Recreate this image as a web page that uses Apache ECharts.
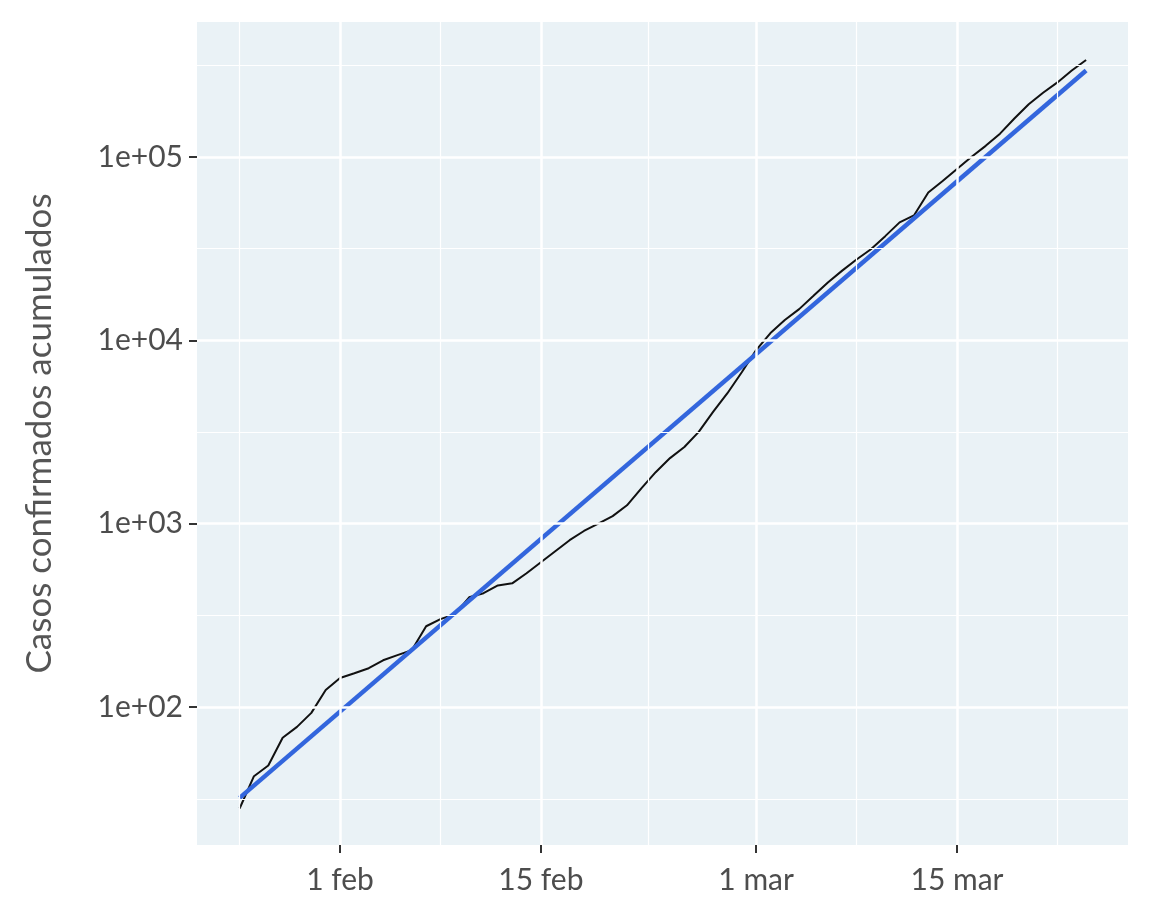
<!DOCTYPE html>
<html>
<head>
<meta charset="utf-8">
<script src="https://cdn.jsdelivr.net/npm/echarts@6/dist/echarts.min.js"></script>
<style>html,body{margin:0;padding:0;background:#fff}#chart{width:1152px;height:922px}</style>
</head>
<body>
<div id="chart"></div>
<script>
// days counted from 1 Jan 2020 (day 0), 2020 is leap year
var startDay = 24; // 25 jan
var cases = [28, 42, 48, 68, 78, 93, 124, 144, 153, 163, 180, 192, 204, 276, 302, 321, 397, 418, 461, 473,
  537, 617, 708, 813, 913, 1000, 1100, 1260, 1560, 1910, 2280, 2620, 3170, 4070, 5150, 6700,
  8840, 10960, 12900, 14800, 17500, 20700, 24000, 27600, 31400, 37000, 44000, 48000, 64000, 74000,
  86000, 100000, 115000, 134000, 162000, 194000, 224000, 255000, 296000, 338000];
// fitted exponential trend, endpoints
var fitDays = [24, 83];
var fitCases = [32, 296000];
var xTicks = [31, 45, 60, 74];
var xTickLabels = ['1 feb', '15 feb', '1 mar', '15 mar'];
var xMinor = [24, 38, 52.5, 67, 81];
var yTicks = [2, 3, 4, 5];
var yTickLabels = ['1e+02', '1e+03', '1e+04', '1e+05'];
var yMinor = [1.5, 2.5, 3.5, 4.5, 5.5];

var lineData = cases.map(function (v, i) { return [startDay + i, Math.log10(v)]; });
var fitData = fitDays.map(function (d, i) { return [d, Math.log10(fitCases[i])]; });

function gridLines(vals, key, w) {
  return vals.map(function (v) {
    var o = { lineStyle: { color: '#ffffff', width: w, type: 'solid' } };
    o[key] = v;
    return o;
  });
}

var chart = echarts.init(document.getElementById('chart'));
chart.setOption({
  animation: false,
  grid: { left: 197, right: 24, top: 22, bottom: 77, backgroundColor: '#eaf2f6', show: true, borderWidth: 0 },
  xAxis: {
    type: 'value', min: 21.03, max: 85.92,
    splitLine: { show: false },
    axisLine: { show: false },
    axisTick: { show: true, customValues: xTicks, length: 8, lineStyle: { color: '#333', width: 2 } },
    axisLabel: {
      customValues: xTicks, margin: 20, fontSize: 30, color: '#4d4d4d', fontFamily: 'Lato',
      formatter: function (v) { return xTickLabels[xTicks.indexOf(v)]; }
    }
  },
  yAxis: {
    type: 'value', min: 1.248, max: 5.736,
    name: 'Casos confirmados acumulados', nameLocation: 'middle', nameGap: 140,
    nameTextStyle: { fontSize: 35, color: '#555', fontFamily: 'Lato' },
    splitLine: { show: false },
    axisLine: { show: false },
    axisTick: { show: true, customValues: yTicks, length: 8, lineStyle: { color: '#333', width: 2 } },
    axisLabel: {
      customValues: yTicks, margin: 14, fontSize: 30, color: '#4d4d4d', fontFamily: 'Lato',
      formatter: function (v) { return yTickLabels[yTicks.indexOf(v)]; }
    }
  },
  series: [
    {
      type: 'line', data: [], silent: true,
      markLine: {
        symbol: 'none', silent: true, label: { show: false },
        data: gridLines(xMinor, 'xAxis', 1.2).concat(gridLines(yMinor, 'yAxis', 1.2))
          .concat(gridLines(xTicks, 'xAxis', 2.5)).concat(gridLines(yTicks, 'yAxis', 2.5))
      }
    },
    {
      type: 'line', data: lineData, showSymbol: false,
      lineStyle: { color: '#111', width: 2 }
    },
    {
      type: 'line', data: fitData, showSymbol: false,
      lineStyle: { color: '#3366dd', width: 4.5 }
    }
  ]
});
</script>
</body>
</html>
